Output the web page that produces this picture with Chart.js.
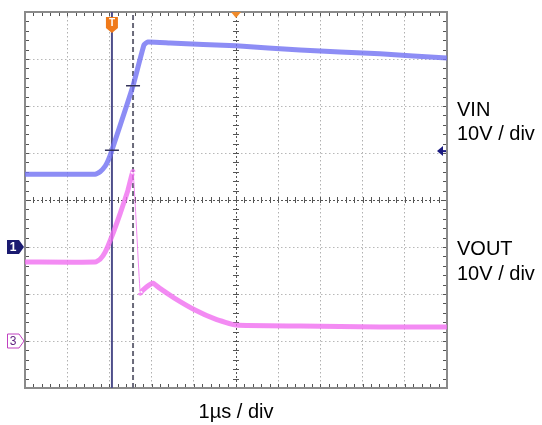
<!DOCTYPE html>
<html>
<head>
<meta charset="utf-8">
<script src="https://cdn.jsdelivr.net/npm/chart.js@4.4.1/dist/chart.umd.min.js"></script>
<style>
  html, body { margin: 0; padding: 0; background: #fff; }
</style>
</head>
<body>
<canvas id="scope" width="542" height="425"></canvas>
<script>
// Time base 1 µs/div, both channels 10 V/div
const vinTime   = [-5, -3.34, -3.22, -3.10, -3.03, -2.94, -2.44, -2.18, -2.09, -1.56, 0, 1.52, 3.41, 5];
const vinVolts  = [15.5, 15.5, 16.0, 17.2, 18.4, 20.6, 34.3, 43.0, 43.6, 43.4, 42.8, 41.9, 41.1, 40.2];
const voutTime  = [-5, -3.34, -3.22, -3.10, -2.94, -2.75, -2.56, -2.44, -2.27, -2.20, -2.06, -1.97, -1.82, -1.47, -0.97, -0.50, 0, 1.52, 3.41, 5];
const voutVolts = [16.8, 16.8, 17.4, 18.9, 22.3, 27.0, 32.1, 36.0, 10.2, 10.9, 11.9, 12.3, 11.3, 9.2, 6.6, 4.7, 3.4, 3.2, 3.0, 3.0];
const cursorTimes = [-2.94, -2.44];
const triggerVolts = 20.4;

const voltsPerDiv = 10;
const vinGroundDiv = -1;   // channel 1 ground marker
const voutGroundDiv = -3;  // channel 3 ground marker

const toDiv = (v, gnd) => v / voltsPerDiv + gnd;
const vinPoints  = vinTime.map((t, i) => ({ x: t, y: toDiv(vinVolts[i], vinGroundDiv) }));
const voutPoints = voutTime.map((t, i) => ({ x: t, y: toDiv(voutVolts[i], voutGroundDiv) }));
const peakIndex = voutVolts.indexOf(Math.max(...voutVolts));

const cursorSet = (t, dash, color) => ({
  data: [{ x: t, y: -4 }, { x: t, y: 4 }],
  borderColor: color,
  borderWidth: 2,
  borderDash: dash,
  pointRadius: 0,
  order: 3
});

// scope graticule, minor ticks, markers and labels
const graticule = {
  id: 'graticule',
  beforeDatasetsDraw(chart) {
    const { ctx, chartArea: a, scales: { x, y } } = chart;
    const cx = x.getPixelForValue(0), cy = y.getPixelForValue(0);
    ctx.save();
    ctx.strokeStyle = '#555';
    ctx.lineWidth = 1;
    ctx.beginPath();
    for (let i = -25; i <= 25; i++) {
      const px = Math.round(x.getPixelForValue(i / 5)) + 0.5;
      ctx.moveTo(px, cy - 3); ctx.lineTo(px, cy + 3);
      ctx.moveTo(px, a.top); ctx.lineTo(px, a.top + 4);
      ctx.moveTo(px, a.bottom); ctx.lineTo(px, a.bottom - 4);
    }
    for (let i = -20; i <= 20; i++) {
      const py = Math.round(y.getPixelForValue(i / 5)) + 0.5;
      ctx.moveTo(cx - 3, py); ctx.lineTo(cx + 3, py);
      ctx.moveTo(a.left, py); ctx.lineTo(a.left + 4, py);
      ctx.moveTo(a.right, py); ctx.lineTo(a.right - 4, py);
    }
    ctx.stroke();
    // centre cross
    ctx.setLineDash([2, 2]);
    ctx.strokeStyle = '#555';
    ctx.beginPath();
    ctx.moveTo(a.left, Math.round(cy) + 0.5); ctx.lineTo(a.right, Math.round(cy) + 0.5);
    ctx.moveTo(Math.round(cx) + 0.5, a.top); ctx.lineTo(Math.round(cx) + 0.5, a.bottom);
    ctx.stroke();
    ctx.setLineDash([]);
    // frame
    ctx.strokeStyle = '#8a8a8a';
    ctx.lineWidth = 2;
    ctx.strokeRect(a.left, a.top, a.right - a.left, a.bottom - a.top);
    ctx.restore();
  },
  afterDatasetsDraw(chart) {
    const { ctx, chartArea: a, scales: { x, y } } = chart;
    ctx.save();
    // cursor crossings on VIN
    ctx.strokeStyle = '#33335a';
    ctx.lineWidth = 1.5;
    ctx.beginPath();
    cursorTimes.forEach(t => {
      const i = vinTime.indexOf(t);
      const px = x.getPixelForValue(t), py = y.getPixelForValue(toDiv(vinVolts[i], vinGroundDiv));
      ctx.moveTo(px - 7, py); ctx.lineTo(px + 7, py);
    });
    ctx.stroke();

    // trigger position "T"
    const tx = x.getPixelForValue(cursorTimes[0]);
    ctx.fillStyle = '#f07a1a';
    ctx.beginPath();
    ctx.moveTo(tx - 6, a.top + 5);
    ctx.lineTo(tx + 6, a.top + 5);
    ctx.lineTo(tx + 6, a.top + 16);
    ctx.lineTo(tx, a.top + 21);
    ctx.lineTo(tx - 6, a.top + 16);
    ctx.closePath();
    ctx.fill();
    ctx.fillStyle = '#fff';
    ctx.font = 'bold 10px "Liberation Sans", Arial';
    ctx.textAlign = 'center';
    ctx.textBaseline = 'middle';
    ctx.fillText('T', tx, a.top + 11);

    // horizontal position marker
    const hx = x.getPixelForValue(0);
    ctx.fillStyle = '#f08a2a';
    ctx.beginPath();
    ctx.moveTo(hx - 5, a.top); ctx.lineTo(hx + 5, a.top); ctx.lineTo(hx, a.top + 6);
    ctx.closePath(); ctx.fill();

    // trigger level arrow
    const ly = y.getPixelForValue(toDiv(triggerVolts, vinGroundDiv));
    ctx.fillStyle = '#1a1a80';
    ctx.beginPath();
    ctx.moveTo(a.right - 10, ly); ctx.lineTo(a.right - 4, ly - 5); ctx.lineTo(a.right - 4, ly + 5);
    ctx.closePath(); ctx.fill();
    ctx.fillRect(a.right - 5, ly - 1, 4, 2);

    // channel ground markers
    const g1 = y.getPixelForValue(vinGroundDiv);
    ctx.fillStyle = '#1a1a70';
    ctx.beginPath();
    ctx.moveTo(7, g1 - 7); ctx.lineTo(19, g1 - 7); ctx.lineTo(24, g1); ctx.lineTo(19, g1 + 7); ctx.lineTo(7, g1 + 7);
    ctx.closePath(); ctx.fill();
    ctx.fillStyle = '#fff';
    ctx.font = 'bold 12px "Liberation Sans", Arial';
    ctx.fillText('1', 13, g1 + 0.5);

    const g3 = y.getPixelForValue(voutGroundDiv);
    ctx.strokeStyle = '#c040c0';
    ctx.lineWidth = 1;
    ctx.fillStyle = '#fff';
    ctx.beginPath();
    ctx.moveTo(7.5, g3 - 7); ctx.lineTo(19, g3 - 7); ctx.lineTo(24, g3); ctx.lineTo(19, g3 + 7); ctx.lineTo(7.5, g3 + 7);
    ctx.closePath(); ctx.fill(); ctx.stroke();
    ctx.fillStyle = '#602080';
    ctx.font = '12px "Liberation Sans", Arial';
    ctx.fillText('3', 13, g3 + 0.5);

    // channel and time base labels
    ctx.fillStyle = '#000';
    ctx.font = '20px "Liberation Sans", Arial';
    ctx.textAlign = 'left';
    ctx.textBaseline = 'alphabetic';
    ctx.fillText('VIN', 457, 116);
    ctx.fillText('10V / div', 457, 140);
    ctx.fillText('VOUT', 457, 255);
    ctx.fillText('10V / div', 457, 280);
    ctx.textAlign = 'center';
    ctx.fillText('1µs / div', x.getPixelForValue(0), 418);
    ctx.restore();
  }
};

new Chart(document.getElementById('scope'), {
  type: 'line',
  data: {
    datasets: [
      {
        label: 'VIN',
        data: vinPoints,
        borderColor: 'rgba(112, 112, 242, 0.8)',
        borderWidth: 5,
        pointRadius: 0,
        tension: 0.15,
        order: 1
      },
      {
        label: 'VOUT',
        data: voutPoints,
        borderColor: 'rgba(240, 110, 240, 0.8)',
        borderWidth: 5,
        pointRadius: 0,
        tension: 0.15,
        order: 2,
        segment: {
          borderWidth: c => c.p0DataIndex === peakIndex ? 1 : undefined
        }
      },
      cursorSet(cursorTimes[0], [], '#4e4e8a'),
      cursorSet(cursorTimes[1], [5, 3], '#6a6a7a')
    ]
  },
  options: {
    responsive: false,
    animation: false,
    layout: { padding: { left: 25, right: 95, top: 12, bottom: 37 } },
    plugins: { legend: { display: false }, tooltip: { enabled: false } },
    scales: {
      x: {
        type: 'linear', min: -5, max: 5,
        ticks: { stepSize: 1, display: false },
        grid: { color: '#b0b0b0', lineWidth: 1, drawTicks: false },
        border: { display: false, dash: [1.5, 2.5] }
      },
      y: {
        min: -4, max: 4,
        ticks: { stepSize: 1, display: false },
        grid: { color: '#b8b8b8', lineWidth: 1, drawTicks: false },
        border: { display: false, dash: [1.5, 2.5] }
      }
    }
  },
  plugins: [graticule]
});
</script>
</body>
</html>
